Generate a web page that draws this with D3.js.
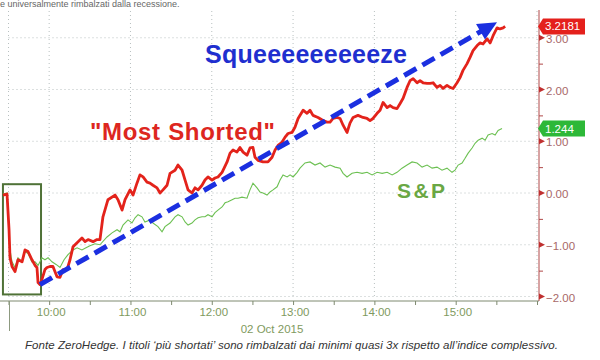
<!DOCTYPE html>
<html><head><meta charset="utf-8">
<script src="https://cdn.jsdelivr.net/npm/d3@7"></script>
<style>body{margin:0;background:#fff}svg{display:block}</style>
</head><body><svg id="c" width="600" height="360"></svg>
<script>
// minutes since 09:30 open
const redMin = [-4.1,-1.1,0.4,1.1,2.6,4.8,7.0,10.0,12.2,14.4,17.3,19.6,21.0,21.8,23.2,24.7,26.9,28.4,30.6,32.8,35.8,38.0,40.2,43.2,45.4,47.6,50.6,54.2,56.5,58.7,62.4,65.3,67.5,69.7,73.4,78.6,80.8,83.8,86.0,89.7,91.9,94.8,97.0,99.3,102.2,104.4,106.6,109.6,111.8,114.0,117.0,119.2,122.9,125.1,128.1,130.3,132.5,135.4,137.6,139.9,142.8,145.0,147.2,150.2,152.4,154.6,157.6,161.3,163.5,165.7,168.6,170.8,173.1,176.0,178.2,180.4,181.9,184.1,187.8,191.5,194.5,196.7,198.9,201.8,204.1,206.3,209.2,211.4,213.7,217.4,220.3,222.5,224.7,228.4,232.1,235.1,237.3,239.5,242.4,244.7,246.9,249.8,252.0,254.3,257.9,261.6,264.6,266.8,269.0,272.0,274.2,276.4,279.4,281.6,283.8,286.7,289.0,291.2,294.1,296.3,298.6,301.5,303.7,305.9,308.9,311.1,313.3,316.2,318.5,320.7,323.6,325.8,328.1,331.0,333.2,335.4,338.4,340.6,342.8,345.8,348.0,350.2,353.2,355.4,357.6,360.5,362.7,365.0,366.5];
const redVal = [-0.04,-0.02,-0.71,-1.25,-1.42,-1.52,-1.29,-1.33,-1.10,-1.13,-1.29,-1.40,-1.44,-1.73,-1.77,-1.67,-1.48,-1.44,-1.42,-1.42,-1.62,-1.63,-1.48,-1.48,-1.29,-1.04,-0.96,-0.87,-0.94,-0.90,-0.94,-0.90,-0.90,-0.46,-0.13,-0.04,-0.13,-0.33,-0.13,0.06,-0.04,0.19,0.35,0.31,0.21,0.19,0.15,0.10,0.00,0.06,0.15,0.38,0.44,0.54,0.44,0.25,0.06,0.00,0.10,0.06,0.15,0.25,0.31,0.25,0.29,0.31,0.40,0.60,0.77,0.83,0.79,0.88,0.79,0.73,0.87,0.88,0.69,0.63,0.60,0.60,0.69,0.83,0.92,0.98,1.08,1.15,1.17,1.27,1.44,1.60,1.54,1.60,1.50,1.46,1.40,1.37,1.37,1.44,1.46,1.44,1.31,1.17,1.35,1.46,1.50,1.46,1.44,1.40,1.44,1.54,1.60,1.75,1.65,1.69,1.65,1.63,1.73,1.83,2.04,2.17,2.21,2.13,2.17,2.13,2.12,2.12,2.13,2.04,2.08,2.02,2.08,2.04,2.02,2.13,2.23,2.37,2.50,2.62,2.75,2.85,2.90,2.88,2.98,2.90,3.04,3.19,3.17,3.19,3.2181];
const spxMin = [-4.1,-1.1,1.1,2.6,4.8,7.0,10.0,12.2,14.4,17.3,19.6,21.8,24.7,26.9,29.2,32.1,35.1,38.0,41.0,43.9,47.6,50.6,54.2,57.2,60.1,63.8,67.5,72.7,76.4,80.1,82.3,84.5,88.2,91.1,93.4,95.6,98.5,100.7,104.4,106.6,110.3,113.3,115.5,119.2,122.9,125.1,128.1,130.3,132.5,135.4,137.6,139.9,142.8,145.0,147.2,150.2,152.4,154.6,157.6,159.8,162.0,165.0,167.2,169.4,172.3,176.0,178.2,180.4,183.4,185.6,187.8,190.8,193.0,195.2,198.2,200.4,202.6,205.6,207.8,210.0,213.0,215.1,218.8,222.5,226.2,229.9,233.6,237.3,241.0,244.7,246.9,249.8,253.5,257.2,260.9,264.6,268.3,272.0,275.7,279.4,283.1,286.7,290.4,294.1,297.8,301.5,305.2,308.9,312.6,316.2,319.9,323.6,327.3,329.5,331.8,334.7,336.9,339.2,342.1,344.3,346.6,349.5,351.7,353.9,356.9,359.1,361.3,364.2];
const spxVal = [-0.02,0.00,-1.10,-1.33,-1.44,-1.25,-1.33,-1.13,-1.17,-1.33,-1.33,-1.40,-1.25,-1.29,-1.25,-1.33,-1.38,-1.44,-1.29,-1.19,-1.10,-1.06,-1.10,-1.06,-1.02,-0.98,-1.00,-0.85,-0.77,-0.71,-0.75,-0.62,-0.52,-0.58,-0.48,-0.42,-0.46,-0.56,-0.52,-0.58,-0.65,-0.75,-0.65,-0.58,-0.46,-0.42,-0.46,-0.56,-0.62,-0.58,-0.52,-0.48,-0.46,-0.46,-0.42,-0.46,-0.38,-0.33,-0.27,-0.19,-0.17,-0.13,-0.10,-0.10,-0.08,-0.10,0.06,0.19,0.10,0.02,0.00,-0.04,0.02,0.06,0.12,0.25,0.35,0.31,0.35,0.31,0.40,0.48,0.58,0.60,0.54,0.58,0.50,0.54,0.50,0.48,0.38,0.31,0.38,0.40,0.38,0.40,0.35,0.40,0.38,0.40,0.35,0.40,0.48,0.54,0.60,0.58,0.50,0.54,0.48,0.50,0.44,0.48,0.40,0.44,0.54,0.58,0.67,0.77,0.87,0.96,1.02,1.06,1.02,1.12,1.15,1.12,1.21,1.244];
const xTickMin = [30, 90, 150, 210, 270, 330];
const xTickLabels = ["10:00","11:00","12:00","13:00","14:00","15:00"];
const yTicks = [-2, -1, 0, 1, 2, 3];
const dateLabel = "02 Oct 2015";
const arrowFrom = [23.2, -1.77];
const arrowTo = [360.5, 3.30];
const boxRange = [-4.1, 24.0, -1.96, 0.17]; // minutes from, to, value low, high
const caption = "Fonte ZeroHedge. I titoli \u2018pi\u00f9 shortati\u2019 sono rimbalzati dai minimi quasi 3x rispetto all\u2019indice complessivo.";
const topText = "e universalmente rimbalzati dalla recessione.";

const svg = d3.select("#c");
const x = d3.scaleLinear().domain([0, 390]).range([8.5, 537]);
const y = d3.scaleLinear().domain([-2, 3]).range([296.5, 37.75]);
const font = "'Liberation Sans', Arial, sans-serif";

// top text (cropped line in the source)
svg.append("text").attr("x", 0).attr("y", 7).attr("font-family", font).attr("font-size", 9)
  .attr("fill", "#666").text(topText);

// grid
const g = svg.append("g");
g.selectAll(".hg").data(yTicks).join("line")
  .attr("x1", x(0)).attr("x2", x(390)).attr("y1", d => y(d)).attr("y2", d => y(d))
  .attr("stroke", "#b8c0c0").attr("stroke-dasharray", "1,3");
g.selectAll(".vg").data([0, ...xTickMin, 390]).join("line")
  .attr("x1", d => x(d)).attr("x2", d => x(d)).attr("y1", 11).attr("y2", y(-2))
  .attr("stroke", "#b8c0c0").attr("stroke-dasharray", "1,3");

// bottom axis
const xa = svg.append("g").attr("transform", "translate(0,301)")
  .call(d3.axisBottom(x).tickValues(d3.range(0, 391, 30)).tickSize(4).tickFormat(""));
xa.select(".domain").attr("d", "M0,0H539").attr("stroke", "#7e8a70");
xa.selectAll(".tick line").attr("stroke", "#7e8a70");
svg.selectAll(".xl").data(xTickMin).join("text")
  .attr("x", (d) => x(d) + 2).attr("y", 316).attr("text-anchor", "middle")
  .attr("font-family", font).attr("font-size", 11.5).attr("fill", "#7f9a5e")
  .text((d, i) => xTickLabels[i]);
svg.append("text").attr("x", 272).attr("y", 333).attr("text-anchor", "middle")
  .attr("font-family", font).attr("font-size", 11.5).attr("fill", "#7f9a5e").text(dateLabel);
svg.append("line").attr("x1", 9.5).attr("x2", 9.5).attr("y1", 301).attr("y2", 331)
  .attr("stroke", "#8d9a80").attr("stroke-width", 1);

// right axis
const ya = svg.append("g").attr("transform", "translate(539,0)")
  .call(d3.axisRight(y).tickValues(d3.range(-2, 3.01, 0.5).filter(v => v % 1 !== 0)).tickSize(4).tickFormat(""));
ya.select(".domain").attr("d", "M0,10V301").attr("stroke", "#b04848");
ya.selectAll(".tick line").attr("stroke", "#b04848");
svg.selectAll(".ytri").data(yTicks).join("path")
  .attr("d", d => `M539,${y(d) - 3}L545,${y(d)}L539,${y(d) + 3}Z`).attr("fill", "#c03030");
svg.selectAll(".yl").data(yTicks).join("text")
  .attr("x", 546).attr("y", d => y(d) + 5)
  .attr("font-family", font).attr("font-size", 11.5).attr("fill", "#a86868")
  .text(d => d3.format(".2f")(d));

// green highlight box
svg.append("rect").attr("x", x(boxRange[0])).attr("y", y(boxRange[3]))
  .attr("width", x(boxRange[1]) - x(boxRange[0])).attr("height", y(boxRange[2]) - y(boxRange[3]))
  .attr("fill", "none").attr("stroke", "#4f7237").attr("stroke-width", 2);

// lines
const line = d3.line().x(d => x(d[0])).y(d => y(d[1]));
svg.append("path").datum(spxMin.map((m, i) => [m, spxVal[i]])).attr("d", line)
  .attr("fill", "none").attr("stroke", "#6cc052").attr("stroke-width", 1.1);
svg.append("path").datum(redMin.map((m, i) => [m, redVal[i]])).attr("d", line)
  .attr("fill", "none").attr("stroke", "#e3231b").attr("stroke-width", 2.8).attr("stroke-linejoin", "round");

// dashed arrow
const ax0 = x(arrowFrom[0]), ay0 = y(arrowFrom[1]), ax1 = x(arrowTo[0]), ay1 = y(arrowTo[1]);
const ang = Math.atan2(ay1 - ay0, ax1 - ax0);
const headLen = 19, headW = 9;
const bx = ax1 - headLen * Math.cos(ang), by = ay1 - headLen * Math.sin(ang);
svg.append("line").attr("x1", ax0).attr("y1", ay0).attr("x2", bx + 3 * Math.cos(ang)).attr("y2", by + 3 * Math.sin(ang))
  .attr("stroke", "#1b2fe0").attr("stroke-width", 5).attr("stroke-dasharray", "14,7");
const px = -Math.sin(ang), py = Math.cos(ang);
svg.append("path").attr("d", `M${ax1},${ay1}L${bx + headW * px},${by + headW * py}L${bx - headW * px},${by - headW * py}Z`)
  .attr("fill", "#1b2fe0");

// annotations
svg.append("text").attr("x", 205).attr("y", 63).attr("font-family", font).attr("font-weight", "bold")
  .attr("font-size", 25).attr("fill", "#1f2fcf").attr("textLength", 202).text("Squeeeeeeeeeze");
svg.append("text").attr("x", 90).attr("y", 140).attr("font-family", font).attr("font-weight", "bold")
  .attr("font-size", 24).attr("fill", "#dd2620").attr("textLength", 185).text("\"Most Shorted\"");
svg.append("text").attr("x", 397).attr("y", 198).attr("font-family", font).attr("font-weight", "bold")
  .attr("font-size", 21).attr("fill", "#6aa744").attr("textLength", 48).text("S&P");

// last value tags
const tags = [[redVal[redVal.length - 1], "#e4201c"], [spxVal[spxVal.length - 1], "#2db838"]];
tags.forEach(([v, c]) => {
  const yy = y(v);
  svg.append("path").attr("d", `M538,${yy}L543,${yy - 8}H585V${yy + 8}H543Z`).attr("fill", c);
  svg.append("text").attr("x", 545).attr("y", yy + 4).attr("font-family", font).attr("font-size", 11.5)
    .attr("fill", "#fff").text(String(v));
});

// caption
svg.append("text").attr("x", 25).attr("y", 349).attr("font-family", font).attr("font-style", "italic")
  .attr("font-size", 11.5).attr("fill", "#333").attr("textLength", 533).text(caption);
</script></body></html>
